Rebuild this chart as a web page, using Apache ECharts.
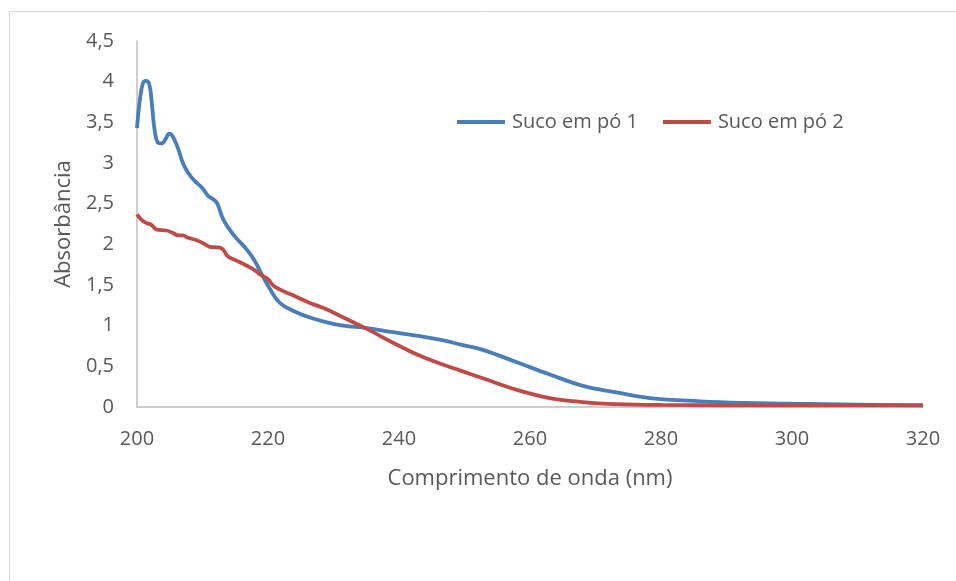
<!DOCTYPE html>
<html>
<head>
<meta charset="utf-8">
<script src="https://cdn.jsdelivr.net/npm/echarts@6/dist/echarts.min.js"></script>
<style>
html,body{margin:0;padding:0;background:#fff;}
#c{width:956px;height:581px;}
</style>
</head>
<body>
<div id="c"></div>
<script>
const seriesNames = ['Suco em pó 1', 'Suco em pó 2'];
const xTitle = 'Comprimento de onda (nm)';
const yTitle = 'Absorbância';

const wavelength1 = [200,200.4,200.9,201.4,201.9,202.3,202.7,203.2,203.8,204.4,204.9,205.5,206.3,207,207.8,208.8,210,210.8,211.5,212.2,213.2,214.7,216.5,217.8,218.8,220.3,221.8,223.9,226.4,229,231.5,235.1,239.1,243.2,246.8,249.3,252.9,258,263,268.1,273.2,278.3,286,293,300,310,320];
const absorb1 = [3.43,3.75,3.98,4.01,3.96,3.7,3.4,3.25,3.24,3.3,3.36,3.32,3.17,3.0,2.88,2.78,2.69,2.6,2.56,2.51,2.3,2.12,1.96,1.82,1.67,1.45,1.28,1.18,1.10,1.04,1.00,0.97,0.92,0.87,0.82,0.77,0.70,0.55,0.40,0.26,0.18,0.11,0.07,0.05,0.04,0.03,0.02];

const wavelength2 = [200,200.7,201.5,202.2,203,204.5,205.5,206.3,207,207.8,209.1,210.2,211.1,212.7,213.2,213.9,215.2,216.7,218,218.8,220,221,223.9,226.4,229,231.5,235.1,239.1,243.2,246.8,249.3,252.9,258,263,268.1,273.2,280,300,320];
const absorb2 = [2.37,2.30,2.26,2.24,2.18,2.17,2.14,2.11,2.11,2.08,2.05,2.01,1.97,1.96,1.93,1.85,1.80,1.74,1.68,1.63,1.57,1.48,1.37,1.28,1.20,1.10,0.96,0.79,0.63,0.52,0.45,0.35,0.21,0.11,0.06,0.035,0.025,0.02,0.02];

const colors = ['#4a7ebb', '#be4b48'];
const font = 'Open Sans';

const zip = (a, b) => a.map((v, i) => [v, b[i]]);

const chart = echarts.init(document.getElementById('c'), null, {renderer: 'canvas'});
chart.setOption({
  animation: false,
  backgroundColor: '#fff',
  graphic: [
    {type: 'line', shape: {x1: 9.5, y1: 11.5, x2: 956, y2: 11.5}, style: {stroke: '#d9d9d9', lineWidth: 1}},
    {type: 'line', shape: {x1: 9.5, y1: 11.5, x2: 9.5, y2: 581}, style: {stroke: '#d9d9d9', lineWidth: 1}}
  ],
  grid: {left: 137, right: 33, top: 41, bottom: 174},
  legend: {
    left: 452, top: 107,
    itemWidth: 48, itemHeight: 4, itemGap: 25,
    icon: 'rect',
    textStyle: {fontFamily: font, fontSize: 20, color: '#595959', padding: [0,0,0,2]},
    data: seriesNames
  },
  xAxis: {
    type: 'value', min: 200, max: 320, interval: 20,
    name: xTitle, nameLocation: 'middle', nameGap: 61,
    nameTextStyle: {fontFamily: font, fontSize: 22, color: '#595959'},
    axisLine: {show: true, lineStyle: {color: '#bfbfbf', width: 1.5}},
    axisTick: {show: false},
    splitLine: {show: false},
    axisLabel: {fontFamily: font, fontSize: 20, color: '#595959', margin: 22}
  },
  yAxis: {
    type: 'value', min: 0, max: 4.5, interval: 0.5,
    name: yTitle, nameLocation: 'middle', nameGap: 62, nameRotate: 90,
    nameTextStyle: {fontFamily: font, fontSize: 22, color: '#595959'},
    axisLine: {show: true, lineStyle: {color: '#bfbfbf', width: 1.5}},
    axisTick: {show: false},
    splitLine: {show: false},
    axisLabel: {fontFamily: font, fontSize: 20, color: '#595959', margin: 23,
      formatter: v => String(v).replace('.', ',')}
  },
  series: [
    {name: seriesNames[0], type: 'line', data: zip(wavelength1, absorb1), showSymbol: false, smooth: 0.4,
     lineStyle: {color: colors[0], width: 3.8}, itemStyle: {color: colors[0]}},
    {name: seriesNames[1], type: 'line', data: zip(wavelength2, absorb2), showSymbol: false, smooth: 0.4,
     lineStyle: {color: colors[1], width: 3.8}, itemStyle: {color: colors[1]}}
  ]
});
</script>
</body>
</html>
